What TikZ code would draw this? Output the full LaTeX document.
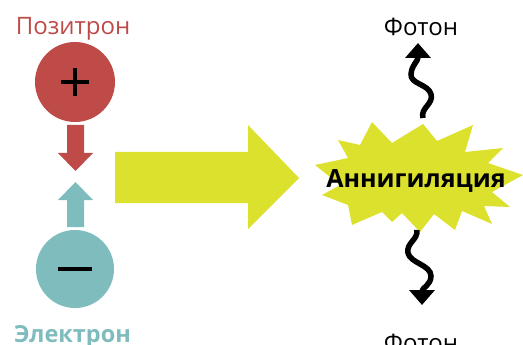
\documentclass[tikz,border=0pt]{standalone}
\usepackage{fontspec}
\setmainfont{Open Sans}
\usetikzlibrary{arrows.meta}
\definecolor{posred}{RGB}{190,75,72}
\definecolor{elteal}{RGB}{127,188,189}
\definecolor{burstyel}{RGB}{220,225,46}
\begin{document}
\begin{tikzpicture}[x=1pt,y=-1pt,
  lbl/.style={anchor=base, inner sep=0pt, font=\fontsize{24}{28}\selectfont},
  particle/.style={circle, inner sep=0pt, minimum size=#1},
  sign/.style={line width=4pt},
  photon/.style={line width=5.5pt, -{Triangle[width=25pt,length=15pt]}}]
\useasboundingbox (0,0) rectangle (523,345);

% labels
\node[lbl, text=posred] (posl) at (73,35) {Позитрон};
\node[lbl, text=elteal, font=\fontsize{23.5}{28}\selectfont\bfseries] (ell) at (72.5,342.5) {Электрон};
\node[lbl] (ph1) at (421,36) {Фотон};
\node[lbl] (ph2) at (421,351) {Фотон};

% particles
\node[particle=80pt, fill=posred] (pos) at (75,82) {};
\node[particle=78pt, fill=elteal] (el) at (75,269) {};
\draw[sign] ([xshift=-14pt]pos.center) -- ([xshift=14pt]pos.center);
\draw[sign] ([yshift=-14pt]pos.center) -- ([yshift=14pt]pos.center);
\draw[sign] ([xshift=-17pt]el.center) -- ([xshift=17pt]el.center);

% small block arrows
\fill[posred] (67,125) -- (84,125) -- (84,153) -- (93,153) -- (75.5,171) -- (58,153) -- (67,153) -- cycle;
\fill[elteal] (67,227) -- (84,227) -- (84,200) -- (93,200) -- (75.5,182) -- (58,200) -- (67,200) -- cycle;

% big arrow
\fill[burstyel] (115,152) -- (248,152) -- (248,125) -- (299,178) -- (248,229) -- (248,203) -- (115,203) -- cycle;

% burst
\fill[burstyel] (372,122) -- (392,143) -- (423,124) -- (437,141) -- (473,125) -- (465,152)
  -- (503,148) -- (488,163) -- (523,175) -- (492,192) -- (510,207) -- (484,206)
  -- (492,224) -- (462,211) -- (455,230) -- (434,214) -- (420,232) -- (402,213)
  -- (392,222) -- (382,212) -- (352,225) -- (348,205) -- (322,195) -- (340,185)
  -- (315,165) -- (348,158) -- (338,140) -- (360,145) -- cycle;
\node[anchor=base, inner sep=0pt, font=\fontsize{25}{30}\selectfont\bfseries] (ann) at (416,187) {Аннигиляция};
\coordinate (btop) at (423,118);
\coordinate (bbot) at (417,230);
\coordinate (tip1) at (418,43);
\coordinate (tip2) at (422,305);

% photons
\draw[photon] (btop) .. controls (420,108) and (434,104) .. (431,94)
  .. controls (428,84) and (410,84) .. (411,74)
  .. controls (412,64) and (418,62) .. (tip1);
\draw[photon] (bbot) .. controls (418,240) and (406,243) .. (408,253)
  .. controls (410,263) and (431,265) .. (431,276)
  .. controls (431,285) and (422,288) .. (tip2);
\end{tikzpicture}
\end{document}
